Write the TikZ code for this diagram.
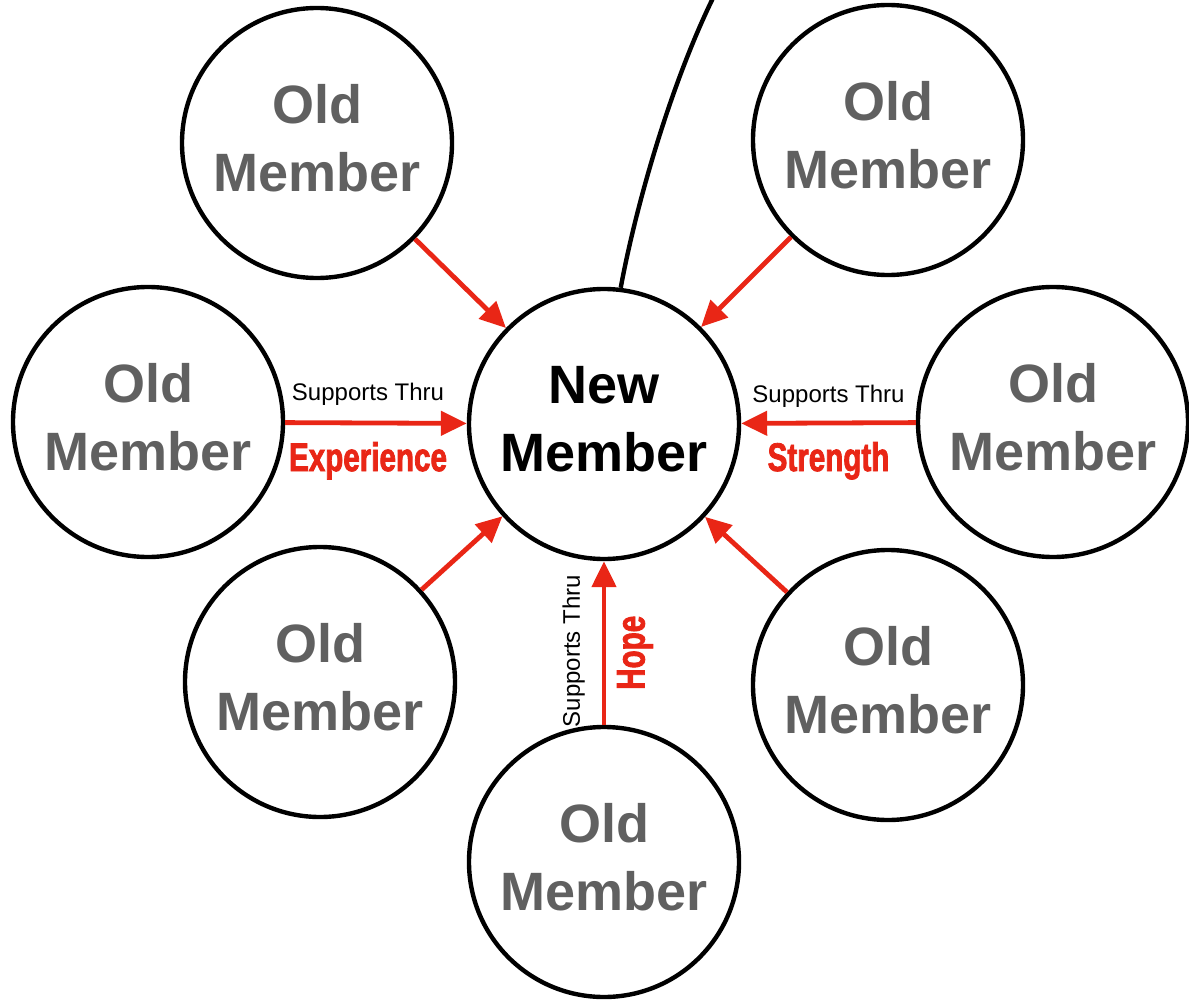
\documentclass[tikz,border=0pt]{standalone}
\usepackage{fontspec}
\setmainfont{Liberation Sans}
\newfontfamily\condfont[FakeStretch=0.74,FakeBold=2]{Liberation Sans}
\usetikzlibrary{arrows.meta}

\definecolor{supportred}{RGB}{233,38,22}
\definecolor{oldgray}{RGB}{96,96,96}

\tikzset{
  member/.style={circle,draw=black,line width=2.2pt,minimum size=135pt,inner sep=0pt,
    align=center,text depth=5pt,font=\bfseries\fontsize{27}{34}\selectfont},
  oldmember/.style={member,text=oldgray},
  support/.style={->,draw=supportred,line width=2.4pt},
  thru/.style={font=\fontsize{12}{14}\selectfont},
  means/.style={text=supportred,font=\condfont\bfseries\fontsize{20}{22}\selectfont}
}

\begin{document}
\begin{tikzpicture}[x=0.5pt,y=-0.5pt,>={Triangle[length=13pt,width=12pt]}]
\useasboundingbox (0,0) rectangle (1189,1001);
\coordinate (tail) at (713,-2);

% The new member
\node[member] (new) at (604,424) {New\\Member};

% The old members
\node[oldmember] (old1) at (317,143) {Old\\Member};
\node[oldmember] (old2) at (888,140) {Old\\Member};
\node[oldmember] (old3) at (148,422) {Old\\Member};
\node[oldmember] (old4) at (1053,422) {Old\\Member};
\node[oldmember] (old5) at (320,682) {Old\\Member};
\node[oldmember] (old6) at (888,685) {Old\\Member};
\node[oldmember] (old7) at (604,862) {Old\\Member};

% The line going off the top
\draw[line width=2.2pt] (new.83) .. controls (634,215) and (668,90) .. (tail);

% The support arrows
\draw[support] (old1) -- (new);
\draw[support] (old2) -- (new);
\draw[support] (old5) -- (new);
\draw[support] (old6) -- (new);
\draw[support] (old3) -- (new)
  node[midway,above=4pt,xshift=-4pt,thru] {Supports Thru}
  node[midway,below=5pt,xshift=-4pt,means] {Experience};
\draw[support] (old4) -- (new)
  node[midway,above=3pt,thru] {Supports Thru}
  node[midway,below=5pt,means] {Strength};
\draw[support] (old7) -- (new)
  node[pos=0.45,rotate=90,above=5pt,thru] {Supports Thru}
  node[pos=0.44,rotate=90,below=2pt,means] {Hope};
\end{tikzpicture}
\end{document}
